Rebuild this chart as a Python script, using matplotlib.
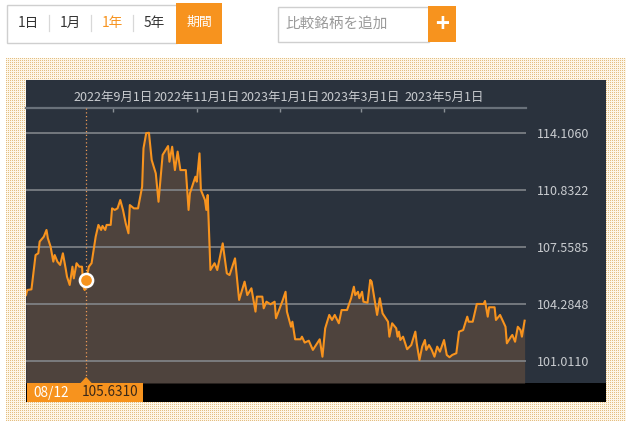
import matplotlib

matplotlib.use("Agg")
import matplotlib.pyplot as plt
import numpy as np
import pandas as pd
from matplotlib.patches import Polygon, Rectangle

plt.rcParams["font.family"] = ["Noto Sans CJK JP", "DejaVu Sans"]

# values
dates = [
    "2022-06-29", "2022-06-30", "2022-07-03", "2022-07-06", "2022-07-08", "2022-07-09",
    "2022-07-11", "2022-07-12", "2022-07-14", "2022-07-15", "2022-07-17", "2022-07-19",
    "2022-07-20", "2022-07-22", "2022-07-24", "2022-07-26", "2022-07-28", "2022-07-29",
    "2022-07-31", "2022-08-02", "2022-08-03", "2022-08-05", "2022-08-07", "2022-08-09",
    "2022-08-10", "2022-08-11", "2022-08-12", "2022-08-14", "2022-08-16", "2022-08-19",
    "2022-08-21", "2022-08-23", "2022-08-24", "2022-08-26", "2022-08-27", "2022-08-30",
    "2022-08-31", "2022-09-02", "2022-09-04", "2022-09-06", "2022-09-08", "2022-09-10",
    "2022-09-12", "2022-09-13", "2022-09-16", "2022-09-19", "2022-09-22", "2022-09-23",
    "2022-09-25", "2022-09-27", "2022-09-29", "2022-10-02", "2022-10-04", "2022-10-07",
    "2022-10-11", "2022-10-12", "2022-10-14", "2022-10-16", "2022-10-18", "2022-10-20",
    "2022-10-24", "2022-10-26", "2022-10-27", "2022-10-31", "2022-11-01", "2022-11-03",
    "2022-11-04", "2022-11-07", "2022-11-08", "2022-11-09", "2022-11-11", "2022-11-14",
    "2022-11-16", "2022-11-20", "2022-11-23", "2022-11-25", "2022-11-29", "2022-12-02",
    "2022-12-06", "2022-12-08", "2022-12-11", "2022-12-14", "2022-12-15", "2022-12-19",
    "2022-12-20", "2022-12-22", "2022-12-25", "2022-12-28", "2022-12-29", "2023-01-03",
    "2023-01-05", "2023-01-06", "2023-01-09", "2023-01-10", "2023-01-12", "2023-01-16",
    "2023-01-17", "2023-01-19", "2023-01-22", "2023-01-25", "2023-01-30", "2023-02-01",
    "2023-02-03", "2023-02-06", "2023-02-08", "2023-02-10", "2023-02-13", "2023-02-15",
    "2023-02-19", "2023-02-22", "2023-02-24", "2023-02-25", "2023-02-27", "2023-02-28",
    "2023-03-02", "2023-03-03", "2023-03-06", "2023-03-08", "2023-03-09", "2023-03-12",
    "2023-03-13", "2023-03-15", "2023-03-17", "2023-03-21", "2023-03-22", "2023-03-24",
    "2023-03-27", "2023-03-28", "2023-03-29", "2023-03-30", "2023-04-01", "2023-04-04",
    "2023-04-07", "2023-04-10", "2023-04-11", "2023-04-13", "2023-04-15", "2023-04-17",
    "2023-04-18", "2023-04-20", "2023-04-22", "2023-04-24", "2023-04-26", "2023-04-28",
    "2023-05-01", "2023-05-03", "2023-05-05", "2023-05-07", "2023-05-10", "2023-05-12",
    "2023-05-15", "2023-05-18", "2023-05-19", "2023-05-22", "2023-05-25", "2023-05-30",
    "2023-05-31", "2023-06-02", "2023-06-03", "2023-06-07", "2023-06-08", "2023-06-11",
    "2023-06-15", "2023-06-16", "2023-06-19", "2023-06-20", "2023-06-22", "2023-06-24",
    "2023-06-26", "2023-06-27", "2023-06-29",
]
values = [
    104.78, 105.07, 105.11, 107.08, 107.18, 107.85,
    108.04, 108.13, 108.52, 108.04, 107.56, 106.70,
    107.08, 106.70, 106.51, 107.18, 106.32, 105.84,
    105.36, 106.41, 105.74, 106.61, 106.41, 106.41,
    105.26, 105.07, 105.63, 106.41, 106.61, 108.13,
    108.81, 108.52, 108.75, 108.52, 108.81, 108.81,
    109.76, 109.67, 109.76, 110.24, 109.67, 108.90,
    108.33, 109.95, 109.76, 109.76, 111.00, 113.21,
    114.08, 114.10, 112.54, 111.77, 110.14, 112.83,
    113.34, 112.44, 113.30, 111.96, 113.02, 111.96,
    111.96, 109.67, 110.63, 111.58, 111.29, 112.92,
    110.82, 110.24, 109.67, 110.53, 106.22, 106.61,
    106.22, 107.75, 106.03, 105.93, 106.89, 104.50,
    105.55, 104.78, 105.17, 103.83, 104.69, 104.69,
    104.02, 104.40, 104.25, 104.40, 103.45, 104.50,
    104.97, 103.83, 102.96, 103.25, 102.24, 102.24,
    102.39, 102.05, 102.16, 101.63, 102.24, 101.24,
    102.87, 103.64, 103.35, 103.64, 103.16, 103.92,
    103.92, 104.60, 105.26, 104.78, 104.97, 104.60,
    104.97, 104.40, 104.34, 105.65, 105.55, 104.11,
    103.64, 104.60, 103.73, 103.25, 102.39, 103.16,
    102.87, 102.39, 102.68, 102.20, 102.39, 101.67,
    101.91, 102.68, 102.01, 101.05, 101.82, 102.20,
    101.63, 101.91, 101.63, 101.24, 101.82, 101.53,
    102.20, 101.34, 101.21, 101.34, 101.44, 102.68,
    102.77, 103.54, 103.25, 103.25, 104.27, 104.27,
    104.44, 103.54, 104.08, 104.08, 103.35, 103.64,
    102.96, 102.01, 102.39, 102.49, 102.10, 102.96,
    102.77, 102.39, 103.31,
]

marker_date = "2022-08-12"
marker_value = 105.6310
marker_label = "08/12"

y_ticks = [101.0110, 104.2848, 107.5585, 110.8322, 114.1060]
x_ticks = ["2022-09-01", "2022-11-01", "2023-01-01", "2023-03-01", "2023-05-01"]
x_tick_labels = ["2022年9月1日", "2022年11月1日", "2023年1月1日", "2023年3月1日", "2023年5月1日"]
period_buttons = ["1日", "1月", "1年", "5年"]
active_period = "1年"
range_button = "期間"
compare_placeholder = "比較銘柄を追加"

ORANGE = "#f7931e"
DARK = "#2a323d"
FILL = "#4e433d"
LABEL = "#c9ccd0"
W, H = 635, 433


def fig_box(left, top, width, height):
    return [left / W, 1 - (top + height) / H, width / W, height / H]


fig = plt.figure(figsize=(W / 100, H / 100), dpi=100)
fig.patch.set_facecolor("white")

bg = fig.add_axes([0, 0, 1, 1], zorder=0)
bg.axis("off")

# period selector
bg.add_patch(Rectangle((6.5, 4.5), 170, 38, facecolor="white", edgecolor="#cfcfcf", lw=1))
bg.add_patch(Rectangle((176, 3), 46, 41, facecolor=ORANGE, edgecolor="none"))
for i, label in enumerate(period_buttons):
    cx = 28 + i * 42
    bg.text(cx, 23, label, ha="center", va="center", fontsize=9.8,
            color=ORANGE if label == active_period else "#333333")
    if i > 0:
        bg.plot([cx - 21, cx - 21], [15, 31], color="#d8d8d8", lw=0.9)
bg.text(199, 22, range_button, ha="center", va="center", fontsize=9.3, color="white")

# compare box
bg.add_patch(Rectangle((277.5, 6.5), 151, 35, facecolor="white", edgecolor="#cfcfcf", lw=1))
bg.add_patch(Rectangle((428, 6), 28, 36, facecolor=ORANGE, edgecolor="none"))
bg.text(285, 24, compare_placeholder, ha="left", va="center", fontsize=10.5, color="#9a9a9a")
bg.text(442, 25, "+", ha="center", va="center", fontsize=17, color="white", fontweight="bold")

# dotted frame
ph, pw = 363, 620
dots = np.empty((ph, pw, 3))
dots[:] = np.array([253, 246, 232]) / 255
dots[::2, ::2] = np.array([228, 190, 130]) / 255
bg.imshow(dots, extent=(6, 626, 421, 58), interpolation="nearest", aspect="auto", zorder=0)
bg.set_xlim(0, W)
bg.set_ylim(H, 0)

# dark chart panel and bottom bar
bg.add_patch(Rectangle((26, 80), 580, 303, facecolor=DARK, edgecolor="none", zorder=1))
bg.add_patch(Rectangle((26, 383), 580, 19, facecolor="black", edgecolor="none", zorder=1))

ax = fig.add_axes(fig_box(26, 108, 500, 275), zorder=2)
ax.set_facecolor(DARK)

dt = pd.to_datetime(dates)
y_min, y_max = 99.73, 115.525
ax.set_xlim(pd.Timestamp("2022-06-29"), pd.Timestamp("2023-06-30"))
ax.set_ylim(y_min, y_max)

ax.fill_between(dt, values, y_min, color=FILL, lw=0, zorder=1)
for v in y_ticks:
    ax.axhline(v, color="#878b90", lw=1.1, zorder=2)
ax.plot(dt, values, color=ORANGE, lw=1.5, zorder=3)

mdt = pd.Timestamp(marker_date)
ax.axvline(mdt, color="#ee9a55", lw=0.9, ls=(0, (1, 2)), zorder=3)
ax.plot([mdt], [marker_value], "o", ms=9.5, mfc=ORANGE, mec="white", mew=1.8, zorder=5)

for side in ["left", "right", "bottom"]:
    ax.spines[side].set_visible(False)
ax.spines["top"].set_color("#69717a")
ax.spines["top"].set_linewidth(1.6)

ax.xaxis.tick_top()
ax.set_xticks(pd.to_datetime(x_ticks))
ax.set_xticklabels(x_tick_labels)
ax.tick_params(axis="x", direction="in", length=3, width=1, color="#8a9096",
               labelcolor=LABEL, labelsize=9, pad=3)

ax.yaxis.tick_right()
ax.set_yticks(y_ticks)
ax.set_yticklabels([f"{v:.4f}" for v in y_ticks])
ax.tick_params(axis="y", length=0, labelcolor=LABEL, labelsize=9, pad=8)

# bottom value tag, pointer placed under the marker date
top = fig.add_axes([0, 0, 1, 1], zorder=3)
top.set_xlim(0, W)
top.set_ylim(H, 0)
top.axis("off")
mx = ax.transData.transform((ax.convert_xunits(mdt), marker_value))[0]
top.add_patch(Rectangle((27, 383), 116, 19, facecolor=ORANGE, edgecolor="none"))
top.add_patch(Polygon([(mx - 6, 383.5), (mx, 377), (mx + 6, 383.5)], closed=True,
                      facecolor=ORANGE, edgecolor="none"))
top.text(33, 392.5, marker_label, ha="left", va="center", fontsize=9.8, color="white")
top.text(82, 392.5, f"{marker_value:.4f}", ha="left", va="center", fontsize=9.8, color="#3a2818")

fig.savefig("out.png", dpi=100, facecolor="white")
